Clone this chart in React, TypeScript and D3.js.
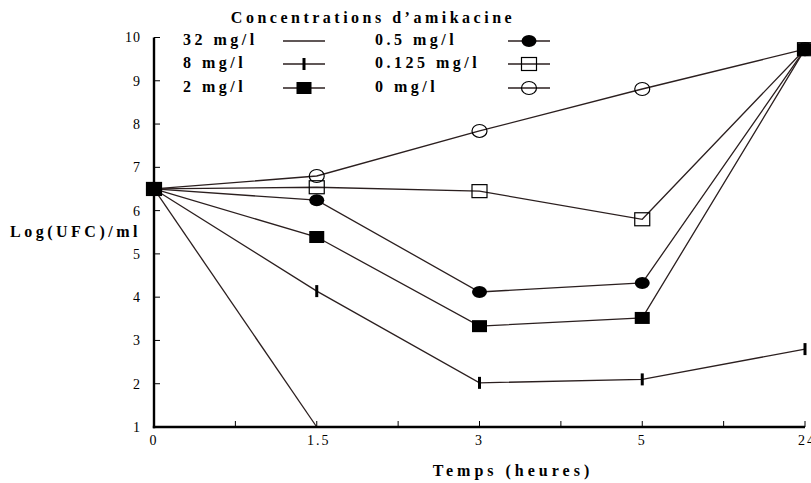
import React, { useEffect, useRef } from "react";
import * as d3 from "d3";

const categories = ["0", "1.5", "3", "5", "24"];
const minorTicks = ["0-1.5", "1.5-3", "3-5", "5-24"];
const yTicks = [1, 2, 3, 4, 5, 6, 7, 8, 9, 10];

const s32 = [6.5, 1.0];
const s8 = [6.5, 4.14, 2.02, 2.1, 2.8];
const s2 = [6.5, 5.39, 3.33, 3.52, 9.73];
const s05 = [6.5, 6.24, 4.12, 4.33, 9.73];
const s0125 = [6.5, 6.54, 6.45, 5.8, 9.73];
const s0 = [6.5, 6.8, 7.84, 8.81, 9.73];

const seriesNames = ["32 mg/l", "8 mg/l", "2 mg/l", "0.5 mg/l", "0.125 mg/l", "0 mg/l"];
const markers = ["none", "tick", "fsquare", "fcircle", "osquare", "ocircle"];

const LINE = "#2b1f1f";

function drawMarker(g: any, type: string, x: number, y: number) {
  if (type === "tick") {
    g.append("rect").attr("x", x - 1.5).attr("y", y - 6).attr("width", 3).attr("height", 12).attr("fill", "#000");
  } else if (type === "fsquare") {
    g.append("rect").attr("x", x - 7.5).attr("y", y - 6).attr("width", 15).attr("height", 12).attr("fill", "#000");
  } else if (type === "osquare") {
    g.append("rect").attr("x", x - 7.5).attr("y", y - 6.5).attr("width", 15).attr("height", 13)
      .attr("fill", "none").attr("stroke", "#000").attr("stroke-width", 1.2);
  } else if (type === "fcircle") {
    g.append("ellipse").attr("cx", x).attr("cy", y).attr("rx", 7.5).attr("ry", 6).attr("fill", "#000");
  } else if (type === "ocircle") {
    g.append("ellipse").attr("cx", x).attr("cy", y).attr("rx", 7.5).attr("ry", 6.5)
      .attr("fill", "none").attr("stroke", "#000").attr("stroke-width", 1.2);
  }
}

export default function App() {
  const ref = useRef<SVGSVGElement>(null);

  useEffect(() => {
    const svg = d3.select(ref.current);
    svg.selectAll("*").remove();

    const x = d3.scalePoint<string>().domain(categories).range([154, 805]);
    const y = d3.scaleLinear().domain([1, 10]).range([427, 37.5]);
    const serif = "'Liberation Serif', 'Times New Roman', serif";

    // series
    const all = [s32, s8, s2, s05, s0125, s0];
    const line = d3.line<number>().x((_, i) => x(categories[i]) as number).y((d) => y(d));
    const gl = svg.append("g");
    all.forEach((s) => {
      gl.append("path").attr("d", line(s) as string).attr("fill", "none").attr("stroke", LINE).attr("stroke-width", 1.3);
    });
    const gm = svg.append("g");
    [5, 4, 3, 1, 2].forEach((k) => {
      all[k].forEach((v, i) => drawMarker(gm, markers[k], x(categories[i]) as number, y(v)));
    });

    // axes
    const ax = svg.append("g");
    const x0 = 154, x1 = 805, yb = y(1), yt = y(10);
    ax.append("line").attr("x1", x0).attr("x2", x0).attr("y1", yt).attr("y2", yb + 1.2).attr("stroke", "#000").attr("stroke-width", 2.4);
    ax.append("line").attr("x1", x0 - 1.2).attr("x2", x1).attr("y1", yb).attr("y2", yb).attr("stroke", "#000").attr("stroke-width", 2.4);

    yTicks.forEach((t) => {
      ax.append("line").attr("x1", x0).attr("x2", x0 + 6).attr("y1", y(t)).attr("y2", y(t)).attr("stroke", "#000").attr("stroke-width", 1);
      ax.append("text").attr("x", 141).attr("y", y(t)).attr("dy", "0.35em").attr("text-anchor", "end")
        .attr("font-family", serif).attr("font-size", 14).attr("letter-spacing", 1).text(String(t));
    });
    const step = x.step();
    categories.forEach((c, i) => {
      const px = x(c) as number;
      if (i > 0) ax.append("line").attr("x1", px).attr("x2", px).attr("y1", yb).attr("y2", yb - 6).attr("stroke", "#000").attr("stroke-width", 1);
      ax.append("text").attr("x", px + (c.length > 1 ? 2 : 0)).attr("y", 445).attr("text-anchor", "middle")
        .attr("font-family", serif).attr("font-size", 14).attr("letter-spacing", 2).text(c);
    });
    minorTicks.forEach((_, i) => {
      const px = (x(categories[i]) as number) + step / 2;
      ax.append("line").attr("x1", px).attr("x2", px).attr("y1", yb).attr("y2", yb - 6).attr("stroke", "#000").attr("stroke-width", 1);
    });

    // axis titles
    svg.append("text").attr("x", 513).attr("y", 476).attr("text-anchor", "middle").attr("font-family", serif)
      .attr("font-weight", "bold").attr("font-size", 16).attr("letter-spacing", 4).text("Temps (heures)");
    svg.append("text").attr("x", 10).attr("y", 237).attr("font-family", serif)
      .attr("font-weight", "bold").attr("font-size", 16).attr("letter-spacing", 3.5).text("Log(UFC)/ml");

    // legend
    const lg = svg.append("g");
    lg.append("text").attr("x", 373).attr("y", 23).attr("text-anchor", "middle").attr("font-family", serif)
      .attr("font-weight", "bold").attr("font-size", 16).attr("letter-spacing", 3.5).text("Concentrations d\u2019amikacine");
    const rowY = [41, 64, 88];
    seriesNames.forEach((name, k) => {
      const col = k < 3 ? 0 : 1;
      const row = k % 3;
      const tx = col === 0 ? 183 : 375;
      const sx0 = col === 0 ? 283 : 508;
      const sx1 = col === 0 ? 325 : 550;
      const ly = rowY[row];
      lg.append("text").attr("x", tx).attr("y", ly + 4).attr("font-family", serif)
        .attr("font-weight", "bold").attr("font-size", 16).attr("letter-spacing", 3.5).text(name);
      lg.append("line").attr("x1", sx0).attr("x2", sx1).attr("y1", ly).attr("y2", ly).attr("stroke", LINE).attr("stroke-width", 1.3);
      drawMarker(lg, markers[k], (sx0 + sx1) / 2, ly);
    });
  }, []);

  return (
    <svg ref={ref} width={811} height={483} style={{ position: "absolute", left: 0, top: 0, background: "#fff" }} />
  );
}
